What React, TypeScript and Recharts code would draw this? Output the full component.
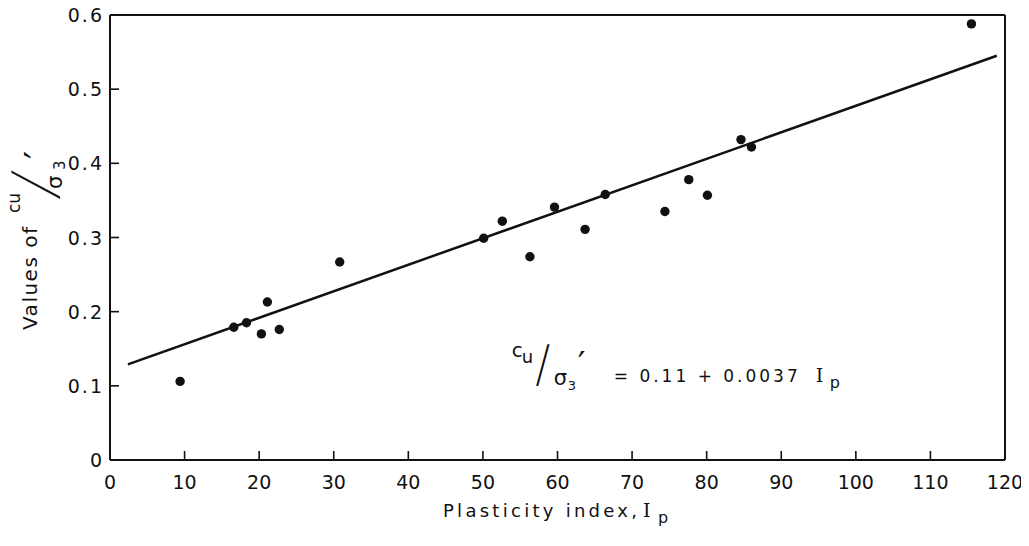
import React from 'react';
import { ScatterChart, Scatter, XAxis, YAxis, ReferenceLine } from 'recharts';

// ---- data ----
const plasticityIndex = [9.4, 16.6, 18.3, 20.3, 21.1, 22.7, 30.8, 50.1, 52.6, 56.3, 59.6, 63.7, 66.4, 74.4, 77.6, 80.1, 84.6, 86.0, 115.5];
const strengthRatio = [0.106, 0.179, 0.185, 0.17, 0.213, 0.176, 0.267, 0.299, 0.322, 0.274, 0.341, 0.311, 0.358, 0.335, 0.378, 0.357, 0.432, 0.422, 0.588];
const fitLineX = [2.4, 118.9];
const fitLineY = [0.129, 0.545];
const xTicks = [0, 10, 20, 30, 40, 50, 60, 70, 80, 90, 100, 110, 120];
const xInnerTicks = [10, 20, 30, 40, 50, 60, 70, 80, 90, 100, 110];
const yTicks = [0, 0.1, 0.2, 0.3, 0.4, 0.5, 0.6];
const yInnerTicks = [0.1, 0.2, 0.3, 0.4, 0.5];
const equationAnchor = [{ x: 54, y: 0.105 }];

const points = plasticityIndex.map((x, i) => ({ x, y: strengthRatio[i] }));
const segment = fitLineX.map((x, i) => ({ x, y: fitLineY[i] }));

const FONT = '"DejaVu Sans", sans-serif';
const SERIF = '"DejaVu Serif", serif';
const THIN = 'Inter, "DejaVu Sans", sans-serif';
const INK = '#111';

const BottomTick = (props: any) => {
  const { x, y, payload } = props;
  const v = payload.value;
  return (
    <g>
      {v > 0 && v < 120 && <line x1={x} y1={y} x2={x} y2={y - 9} stroke={INK} strokeWidth={1.6} />}
      <text x={x} y={y + 29} textAnchor="middle" fontSize={19} fontFamily={FONT} fill={INK}>
        {v}
      </text>
    </g>
  );
};

const LeftTick = (props: any) => {
  const { x, y, payload } = props;
  const v = payload.value;
  const label = v === 0 ? '0' : v.toFixed(1);
  return (
    <g>
      {v > 0 && v < 0.6 && <line x1={x} y1={y} x2={x + 9} y2={y} stroke={INK} strokeWidth={1.6} />}
      <text x={x - 6} y={y + 7} textAnchor="end" fontSize={19} letterSpacing={2} fontFamily={FONT} fill={INK}>
        {label}
      </text>
    </g>
  );
};

const TopTick = (props: any) => {
  const { x, y } = props;
  return <line x1={x} y1={y} x2={x} y2={y + 9} stroke={INK} strokeWidth={1.6} />;
};

const RightTick = (props: any) => {
  const { x, y } = props;
  return <line x1={x} y1={y} x2={x - 9} y2={y} stroke={INK} strokeWidth={1.6} />;
};

const XTitle = () => (
  <g fill={INK}>
    <text x={443} y={517} fontSize={18} fontFamily={FONT} textLength={194} lengthAdjust="spacing">
      Plasticity index,
    </text>
    <text x={643} y={517} fontSize={19} fontFamily={SERIF}>I</text>
    <text x={658} y={523} fontSize={16} fontFamily={FONT}>p</text>
  </g>
);

const YTitle = () => (
  <g transform="translate(37, 340) rotate(-90)" fill={INK} fontFamily={FONT}>
    <text x={10} y={0} fontSize={20} textLength={103} lengthAdjust="spacing">Values of</text>
    <text x={127} y={-17} fontSize={17}>cu</text>
    <text transform="translate(141, 17) skewX(-15)" x={0} y={0} fontSize={56} fontFamily={THIN} fontWeight={200}>/</text>
    <text x={151} y={25} fontSize={21}>σ</text>
    <text x={170} y={28} fontSize={15}>3</text>
    <text x={181} y={13} fontSize={36}>′</text>
  </g>
);

const EquationLabel = (props: any) => {
  const { cx, cy } = props;
  return (
    <g fill={INK} fontFamily={FONT}>
      <text x={cx - 1} y={cy - 25} fontSize={20}>c</text>
      <text x={cx + 9} y={cy - 19} fontSize={18}>u</text>
      <text x={cx + 22} y={cy - 1} fontSize={48} fontFamily={THIN} fontWeight={200}>/</text>
      <text x={cx + 41} y={cy + 3} fontSize={21}>σ</text>
      <text x={cx + 55} y={cy + 8} fontSize={13}>3</text>
      <text x={cx + 65} y={cy - 6} fontSize={34}>′</text>
      <text x={cx + 101} y={cy} fontSize={17} textLength={184} lengthAdjust="spacing">
        = 0.11 + 0.0037
      </text>
      <text x={cx + 303} y={cy} fontSize={19} fontFamily={SERIF}>I</text>
      <text x={cx + 317} y={cy + 6} fontSize={16}>p</text>
    </g>
  );
};

export default function App() {
  return (
    <div style={{ width: 1029, height: 546, margin: '-8px 0 0 -8px', background: '#fff' }}>
      <ScatterChart width={1029} height={546} margin={{ top: 10, right: 19, bottom: 16, left: 10 }}>
        <XAxis
          xAxisId="bottom"
          orientation="bottom"
          type="number"
          dataKey="x"
          domain={[0, 120]}
          ticks={xTicks}
          interval={0}
          height={70}
          tickSize={0}
          tickMargin={0}
          tickLine={false}
          axisLine={{ stroke: INK, strokeWidth: 2 }}
          tick={<BottomTick />}
          label={{ content: () => <XTitle /> }}
        />
        <XAxis
          xAxisId="top"
          orientation="top"
          type="number"
          dataKey="x"
          domain={[0, 120]}
          ticks={xInnerTicks}
          interval={0}
          height={5}
          tickSize={0}
          tickMargin={0}
          tickLine={false}
          axisLine={{ stroke: INK, strokeWidth: 2 }}
          tick={<TopTick />}
        />
        <YAxis
          yAxisId="left"
          orientation="left"
          type="number"
          dataKey="y"
          domain={[0, 0.6]}
          ticks={yTicks}
          interval={0}
          width={100}
          tickSize={0}
          tickMargin={0}
          tickLine={false}
          axisLine={{ stroke: INK, strokeWidth: 2 }}
          tick={<LeftTick />}
          label={{ content: () => <YTitle /> }}
        />
        <YAxis
          yAxisId="right"
          orientation="right"
          type="number"
          dataKey="y"
          domain={[0, 0.6]}
          ticks={yInnerTicks}
          interval={0}
          width={5}
          tickSize={0}
          tickMargin={0}
          tickLine={false}
          axisLine={{ stroke: INK, strokeWidth: 2 }}
          tick={<RightTick />}
        />
        <ReferenceLine
          xAxisId="bottom"
          yAxisId="left"
          segment={segment}
          stroke={INK}
          strokeWidth={2.5}
        />
        <Scatter
          xAxisId="bottom"
          yAxisId="left"
          data={points}
          isAnimationActive={false}
          shape={(p: any) => <circle cx={p.cx} cy={p.cy} r={4.7} fill={INK} />}
        />
        <Scatter
          xAxisId="bottom"
          yAxisId="left"
          data={equationAnchor}
          isAnimationActive={false}
          shape={(p: any) => <EquationLabel cx={p.cx} cy={p.cy} />}
        />
      </ScatterChart>
    </div>
  );
}
